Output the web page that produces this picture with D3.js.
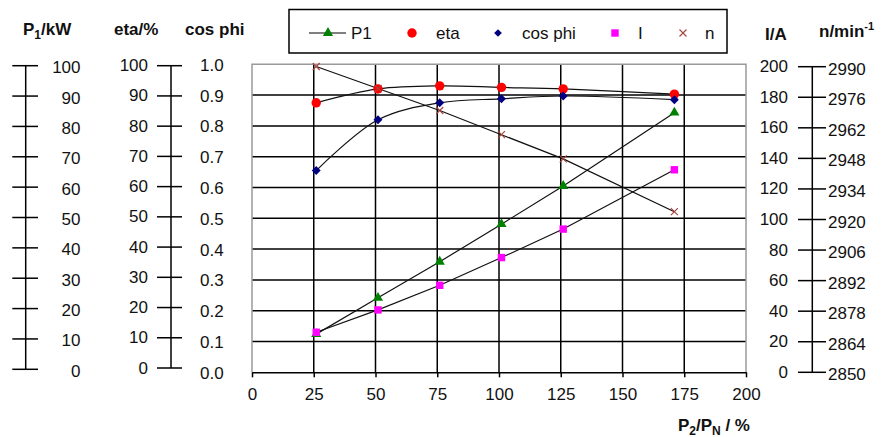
<!DOCTYPE html>
<html>
<head>
<meta charset="utf-8">
<script src="https://cdn.jsdelivr.net/npm/d3@7"></script>
<style>
    body { margin: 0; background: #fff; }
    text { font-family: "Liberation Sans", Arial, sans-serif; fill: #111; }
</style>
</head>
<body>
<svg id="chart" width="884" height="437"></svg>
<script>
// load points (x = P2/PN in %)
const loadPct = [26, 51, 76, 101, 126, 171];
const p1Kw = [12.4, 24.2, 35.9, 48.1, 60.5, 84.3];
const etaPct = [87.5, 92, 93, 92.5, 92, 90.3];
const cosPhi = [0.655, 0.82, 0.875, 0.888, 0.897, 0.885];
const currentA = [26, 40.5, 56.5, 74.5, 93, 131.5];
const speedRpm = [2989, 2979, 2969, 2958, 2947, 2923];

// tick labels
const xTicks = [0, 25, 50, 75, 100, 125, 150, 175, 200];
const p1Ticks = [0, 10, 20, 30, 40, 50, 60, 70, 80, 90, 100];
const etaTicks = [0, 10, 20, 30, 40, 50, 60, 70, 80, 90, 100];
const cosTicks = [0, 0.1, 0.2, 0.3, 0.4, 0.5, 0.6, 0.7, 0.8, 0.9, 1.0];
const iTicks = [0, 20, 40, 60, 80, 100, 120, 140, 160, 180, 200];
const nTicks = [2850, 2864, 2878, 2892, 2906, 2920, 2934, 2948, 2962, 2976, 2990];

const legendItems = ["P1", "eta", "cos phi", "I", "n"];

const svg = d3.select("#chart");
const plotLeft = 252, plotRight = 746, plotTop = 64.3, plotBottom = 372.3;

const x = d3.scaleLinear().domain([0, 200]).range([plotLeft, plotRight]);
const yCos = d3.scaleLinear().domain([0, 1]).range([plotBottom, plotTop]);
const yP1 = d3.scaleLinear().domain([0, 100]).range([plotBottom, plotTop]);
const yEta = d3.scaleLinear().domain([0, 100]).range([plotBottom, plotTop]);
const yI = d3.scaleLinear().domain([0, 200]).range([plotBottom, plotTop]);
const yN = d3.scaleLinear().domain([2850, 2990]).range([plotBottom, plotTop]);

// outer axes have their own slightly different extents
const sideP1 = d3.scaleLinear().domain([0, 100]).range([369.3, 65.7]);
const sideEta = d3.scaleLinear().domain([0, 100]).range([368, 65.7]);
const sideI = d3.scaleLinear().domain([0, 200]).range([372.3, 66.7]);
const sideN = d3.scaleLinear().domain([2850, 2990]).range([372.3, 66.7]);

// grid
const grid = svg.append("g");
grid.selectAll(".hg").data(cosTicks.filter(d => d > 0 && d < 1)).enter().append("line")
    .attr("x1", plotLeft).attr("x2", plotRight)
    .attr("y1", d => yCos(d)).attr("y2", d => yCos(d))
    .attr("stroke", "#000").attr("stroke-width", 1.5);
grid.selectAll(".vg").data(xTicks.filter(d => d > 0 && d < 200)).enter().append("line")
    .attr("x1", d => x(d)).attr("x2", d => x(d))
    .attr("y1", plotTop).attr("y2", plotBottom)
    .attr("stroke", "#000").attr("stroke-width", 1.5);

// plot border (grey) on left, top, right
grid.append("path")
    .attr("d", `M${plotLeft},${plotBottom}V${plotTop}H${plotRight}V${plotBottom}`)
    .attr("fill", "none").attr("stroke", "#9a9a9a").attr("stroke-width", 1.5);

// x axis
const xAxis = svg.append("g").attr("transform", `translate(0,${plotBottom})`)
    .call(d3.axisBottom(x).tickValues(xTicks).tickSize(5).tickSizeOuter(0));
xAxis.select(".domain").attr("stroke", "#000").attr("stroke-width", 1.5);
xAxis.selectAll(".tick line").attr("stroke", "#000").attr("stroke-width", 1.5);
xAxis.selectAll(".tick text").attr("font-size", 17).attr("y", 16)
    .attr("font-family", "Liberation Sans, Arial, sans-serif").attr("fill", "#111");

svg.append("text").attr("x", 750).attr("y", 431).attr("text-anchor", "end")
    .attr("font-size", 17).attr("font-weight", "bold")
    .call(t => {
        t.append("tspan").text("P");
        t.append("tspan").attr("font-size", 12).attr("dy", 4).text("2");
        t.append("tspan").attr("dy", -4).text("/P");
        t.append("tspan").attr("font-size", 12).attr("dy", 4).text("N");
        t.append("tspan").attr("dy", -4).text(" / %");
    });

// side axis helper: vertical line with cross ticks
function sideAxis(scale, ticks, axisX, tickX1, tickX2) {
    const g = svg.append("g");
    g.append("line").attr("x1", axisX).attr("x2", axisX)
        .attr("y1", scale(ticks[0])).attr("y2", scale(ticks[ticks.length - 1]))
        .attr("stroke", "#000").attr("stroke-width", 1.5);
    g.selectAll(".t").data(ticks).enter().append("line")
        .attr("x1", tickX1).attr("x2", tickX2)
        .attr("y1", d => scale(d)).attr("y2", d => scale(d))
        .attr("stroke", "#000").attr("stroke-width", 1.5);
}
function tickLabels(scale, ticks, lx, anchor, fmt, dy) {
    svg.append("g").selectAll("text").data(ticks).enter().append("text")
        .attr("x", lx).attr("y", d => scale(d) + dy)
        .attr("text-anchor", anchor).attr("font-size", 17)
        .attr("dominant-baseline", "central")
        .text(fmt);
}

sideAxis(sideP1, p1Ticks, 25.7, 12.3, 38);
tickLabels(sideP1, p1Ticks, 80.5, "end", d => d, 2);
sideAxis(sideEta, etaTicks, 171, 157, 182);
tickLabels(sideEta, etaTicks, 148, "end", d => d, 0);
tickLabels(yCos, cosTicks, 200, "start", d3.format(".1f"), 1);
sideAxis(sideN, nTicks, 812.3, 798, 826);
tickLabels(sideI, iTicks, 788, "end", d => d, 0);
tickLabels(sideN, nTicks, 828, "start", d => d, 2.5);

// axis titles
const titles = svg.append("g").attr("font-size", 17).attr("font-weight", "bold");
titles.append("text").attr("x", 23).attr("y", 35).call(t => {
    t.append("tspan").text("P");
    t.append("tspan").attr("font-size", 12).attr("dy", 4).text("1");
    t.append("tspan").attr("dy", -4).text("/kW");
});
titles.append("text").attr("x", 114).attr("y", 35).text("eta/%");
titles.append("text").attr("x", 185).attr("y", 35).text("cos phi");
titles.append("text").attr("x", 765).attr("y", 40).text("I/A");
titles.append("text").attr("x", 819).attr("y", 37).call(t => {
    t.append("tspan").text("n/min");
    t.append("tspan").attr("font-size", 11).attr("dy", -7).text("-1");
});

// curves
const pts = (vals, ys) => loadPct.map((d, i) => [x(d), ys(vals[i])]);
const lineStraight = d3.line();
const lineSmooth = d3.line().curve(d3.curveCatmullRom.alpha(0.5));
const curves = svg.append("g").attr("fill", "none").attr("stroke", "#111").attr("stroke-width", 1.2);
curves.append("path").attr("d", lineSmooth(pts(etaPct, yEta)));
curves.append("path").attr("d", lineSmooth(pts(cosPhi, yCos)));
curves.append("path").attr("d", lineStraight(pts(p1Kw, yP1)));
curves.append("path").attr("d", lineStraight(pts(currentA, yI)));
curves.append("path").attr("d", lineStraight(pts(speedRpm, yN)));

// markers
const sym = (type, size) => d3.symbol().type(type).size(size)();
const crossColor = "#a5433f";
function drawCross(g, cx, cy) {
    g.append("path").attr("d", `M${cx - 3.5},${cy - 3.5}L${cx + 3.5},${cy + 3.5}M${cx - 3.5},${cy + 3.5}L${cx + 3.5},${cy - 3.5}`)
        .attr("stroke", crossColor).attr("stroke-width", 1.1).attr("fill", "none");
}
const marks = svg.append("g");
marks.selectAll(".eta").data(pts(etaPct, yEta)).enter().append("path")
    .attr("d", sym(d3.symbolCircle, 70)).attr("fill", "#ff0000")
    .attr("transform", d => `translate(${d[0]},${d[1]})`);
marks.selectAll(".cos").data(pts(cosPhi, yCos)).enter().append("path")
    .attr("d", sym(d3.symbolSquare, 40)).attr("fill", "#000080")
    .attr("transform", d => `translate(${d[0]},${d[1]}) rotate(45)`);
marks.selectAll(".p1").data(pts(p1Kw, yP1)).enter().append("path")
    .attr("d", sym(d3.symbolTriangle, 45)).attr("fill", "#008000")
    .attr("transform", d => `translate(${d[0]},${d[1]})`);
marks.selectAll(".cur").data(pts(currentA, yI)).enter().append("path")
    .attr("d", sym(d3.symbolSquare, 55)).attr("fill", "#ff00ff")
    .attr("transform", d => `translate(${d[0]},${d[1]})`);
pts(speedRpm, yN).forEach(d => drawCross(marks, d[0], d[1]));

// legend
const lg = svg.append("g");
lg.append("rect").attr("x", 289).attr("y", 9.5).attr("width", 438).attr("height", 43.5)
    .attr("fill", "#fff").attr("stroke", "#000").attr("stroke-width", 1.5);
const ly = 33;
lg.append("line").attr("x1", 309).attr("x2", 346).attr("y1", ly).attr("y2", ly)
    .attr("stroke", "#000").attr("stroke-width", 1.2);
lg.append("path").attr("d", sym(d3.symbolTriangle, 45)).attr("fill", "#008000")
    .attr("transform", `translate(328,${ly})`);
lg.append("path").attr("d", sym(d3.symbolCircle, 70)).attr("fill", "#ff0000")
    .attr("transform", `translate(412,${ly})`);
lg.append("path").attr("d", sym(d3.symbolSquare, 30)).attr("fill", "#000080")
    .attr("transform", `translate(498,${ly}) rotate(45)`);
lg.append("path").attr("d", sym(d3.symbolSquare, 55)).attr("fill", "#ff00ff")
    .attr("transform", `translate(615,${ly})`);
drawCross(lg, 683, ly);
const legendX = [351, 436, 522, 638, 705];
lg.selectAll(".lt").data(legendItems).enter().append("text")
    .attr("x", (d, i) => legendX[i]).attr("y", ly)
    .attr("dominant-baseline", "central").attr("font-size", 17)
    .text(d => d);
</script>
</body>
</html>
